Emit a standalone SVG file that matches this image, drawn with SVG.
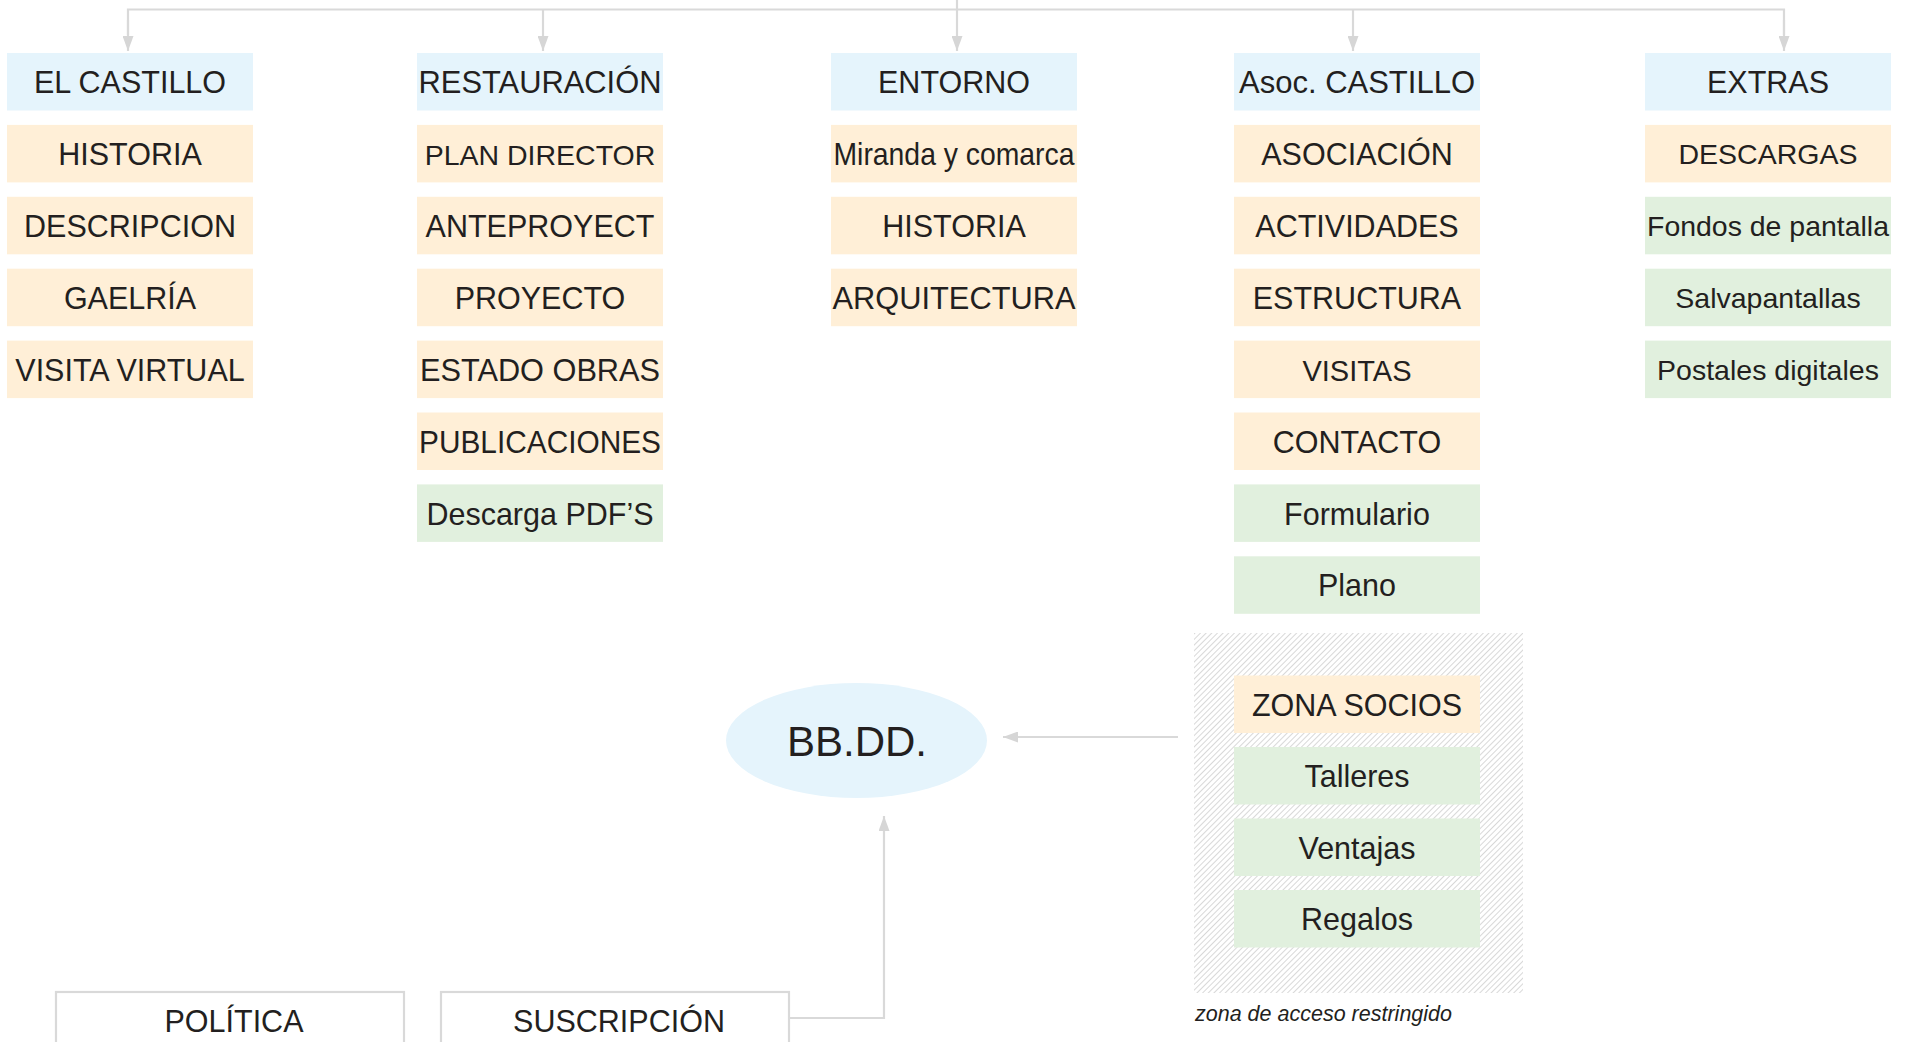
<svg xmlns="http://www.w3.org/2000/svg" width="1905" height="1042" viewBox="0 0 1905 1042">
<style>
  .t { font-family: "Liberation Sans", Arial, Helvetica, sans-serif; font-size: 30.5px; fill: #231f20; text-anchor: middle; }
  .s { font-size: 28.5px; }
  .blue { fill: #e5f4fc; }
  .peach { fill: #ffefd7; }
  .green { fill: #e1f0de; }
  .conn { fill: none; stroke: #d9d9d9; stroke-width: 2.2; }
  .white { fill: #ffffff; stroke: #d9d9d9; stroke-width: 2.2; }
  .note { font-family: "Liberation Sans", Arial, sans-serif; font-size: 22px; font-style: italic; fill: #231f20; }
</style>
<defs>
  <marker id="arr" viewBox="0 0 15 11" refX="15" refY="5.5" markerWidth="15" markerHeight="11" markerUnits="userSpaceOnUse" orient="auto">
    <path d="M0,0 L15,5.5 L0,11 Z" fill="#d6d6d6"/>
  </marker>
  <pattern id="hatch" width="4" height="4" patternUnits="userSpaceOnUse" patternTransform="rotate(45)">
    <rect width="4" height="4" fill="#ffffff"/>
    <line x1="0" y1="0" x2="0" y2="4" stroke="#c8c8c8" stroke-width="1.4"/>
  </pattern>
</defs>
<rect width="1905" height="1042" fill="#ffffff"/>

<g id="restricted-zone">
  <rect x="1194" y="633" width="329" height="360" fill="url(#hatch)"/>
  <text class="note" x="1195" y="1020.5" textLength="257" lengthAdjust="spacingAndGlyphs">zona de acceso restringido</text>
</g>

<g id="connectors">
  <path class="conn" d="M957,0 L957,9.5"/>
  <path class="conn" d="M128,35 L128,9.5 L1784,9.5 L1784,35"/>
  <path class="conn" d="M128,20 L128,51" marker-end="url(#arr)"/>
  <path class="conn" d="M543,9.5 L543,51" marker-end="url(#arr)"/>
  <path class="conn" d="M957,9.5 L957,51" marker-end="url(#arr)"/>
  <path class="conn" d="M1353,9.5 L1353,51" marker-end="url(#arr)"/>
  <path class="conn" d="M1784,20 L1784,51" marker-end="url(#arr)"/>
  <path class="conn" d="M1178,737 L1003,737" marker-end="url(#arr)"/>
  <path class="conn" d="M789,1018 L884,1018 L884,816" marker-end="url(#arr)"/>
</g>

<!-- Column 1: EL CASTILLO -->
<g id="el-castillo"><rect class="blue" x="7" y="53" width="246" height="57.5"/><text class="t" x="130" y="93">EL CASTILLO</text></g>
<g id="historia-1"><rect class="peach" x="7" y="124.9" width="246" height="57.5"/><text class="t" x="130" y="164.5">HISTORIA</text></g>
<g id="descripcion"><rect class="peach" x="7" y="196.8" width="246" height="57.5"/><text class="t" x="130" y="236.5">DESCRIPCION</text></g>
<g id="galeria"><rect class="peach" x="7" y="268.7" width="246" height="57.5"/><text class="t" x="130" y="308.5">GAELRÍA</text></g>
<g id="visita-virtual"><rect class="peach" x="7" y="340.6" width="246" height="57.5"/><text class="t" x="130" y="380.5">VISITA VIRTUAL</text></g>

<!-- Column 2: RESTAURACIÓN -->
<g id="restauracion"><rect class="blue" x="417" y="53" width="246" height="57.5"/><text class="t" x="540" y="93" textLength="243" lengthAdjust="spacingAndGlyphs">RESTAURACIÓN</text></g>
<g id="plan-director"><rect class="peach" x="417" y="124.9" width="246" height="57.5"/><text class="t s" x="540" y="164.5">PLAN DIRECTOR</text></g>
<g id="anteproyect"><rect class="peach" x="417" y="196.8" width="246" height="57.5"/><text class="t" x="540" y="236.5">ANTEPROYECT</text></g>
<g id="proyecto"><rect class="peach" x="417" y="268.7" width="246" height="57.5"/><text class="t" x="540" y="308.5">PROYECTO</text></g>
<g id="estado-obras"><rect class="peach" x="417" y="340.6" width="246" height="57.5"/><text class="t" x="540" y="380.5" textLength="240" lengthAdjust="spacingAndGlyphs">ESTADO OBRAS</text></g>
<g id="publicaciones"><rect class="peach" x="417" y="412.5" width="246" height="57.5"/><text class="t" x="540" y="452.5" textLength="242" lengthAdjust="spacingAndGlyphs">PUBLICACIONES</text></g>
<g id="descarga-pdfs"><rect class="green" x="417" y="484.4" width="246" height="57.5"/><text class="t" x="540" y="524.5">Descarga PDF’S</text></g>

<!-- Column 3: ENTORNO -->
<g id="entorno"><rect class="blue" x="831" y="53" width="246" height="57.5"/><text class="t" x="954" y="93">ENTORNO</text></g>
<g id="miranda"><rect class="peach" x="831" y="124.9" width="246" height="57.5"/><text class="t" x="954" y="164.5" textLength="241" lengthAdjust="spacingAndGlyphs">Miranda y comarca</text></g>
<g id="historia-2"><rect class="peach" x="831" y="196.8" width="246" height="57.5"/><text class="t" x="954" y="236.5">HISTORIA</text></g>
<g id="arquitectura"><rect class="peach" x="831" y="268.7" width="246" height="57.5"/><text class="t" x="954" y="308.5" textLength="243" lengthAdjust="spacingAndGlyphs">ARQUITECTURA</text></g>

<!-- Column 4: Asoc. CASTILLO -->
<g id="asoc-castillo"><rect class="blue" x="1234" y="53" width="246" height="57.5"/><text class="t" x="1357" y="93" textLength="236" lengthAdjust="spacingAndGlyphs">Asoc. CASTILLO</text></g>
<g id="asociacion"><rect class="peach" x="1234" y="124.9" width="246" height="57.5"/><text class="t" x="1357" y="164.5">ASOCIACIÓN</text></g>
<g id="actividades"><rect class="peach" x="1234" y="196.8" width="246" height="57.5"/><text class="t" x="1357" y="236.5">ACTIVIDADES</text></g>
<g id="estructura"><rect class="peach" x="1234" y="268.7" width="246" height="57.5"/><text class="t" x="1357" y="308.5">ESTRUCTURA</text></g>
<g id="visitas"><rect class="peach" x="1234" y="340.6" width="246" height="57.5"/><text class="t" x="1357" y="380.5" style="font-size:29px">VISITAS</text></g>
<g id="contacto"><rect class="peach" x="1234" y="412.5" width="246" height="57.5"/><text class="t" x="1357" y="452.5">CONTACTO</text></g>
<g id="formulario"><rect class="green" x="1234" y="484.4" width="246" height="57.5"/><text class="t" x="1357" y="524.5">Formulario</text></g>
<g id="plano"><rect class="green" x="1234" y="556.3" width="246" height="57.5"/><text class="t" x="1357" y="596">Plano</text></g>

<!-- Column 5: EXTRAS -->
<g id="extras"><rect class="blue" x="1645" y="53" width="246" height="57.5"/><text class="t" x="1768" y="93">EXTRAS</text></g>
<g id="descargas"><rect class="peach" x="1645" y="124.9" width="246" height="57.5"/><text class="t s" x="1768" y="164">DESCARGAS</text></g>
<g id="fondos"><rect class="green" x="1645" y="196.8" width="246" height="57.5"/><text class="t s" x="1768" y="236" textLength="242" lengthAdjust="spacingAndGlyphs">Fondos de pantalla</text></g>
<g id="salvapantallas"><rect class="green" x="1645" y="268.7" width="246" height="57.5"/><text class="t s" x="1768" y="308">Salvapantallas</text></g>
<g id="postales"><rect class="green" x="1645" y="340.6" width="246" height="57.5"/><text class="t s" x="1768" y="380">Postales digitales</text></g>

<!-- Zona socios -->
<g id="zona-socios"><rect class="peach" x="1234" y="675.5" width="246" height="57.5"/><text class="t" x="1357" y="715.5">ZONA SOCIOS</text></g>
<g id="talleres"><rect class="green" x="1234" y="747" width="246" height="57.5"/><text class="t" x="1357" y="787">Talleres</text></g>
<g id="ventajas"><rect class="green" x="1234" y="818.5" width="246" height="57.5"/><text class="t" x="1357" y="858.5">Ventajas</text></g>
<g id="regalos"><rect class="green" x="1234" y="890" width="246" height="57.5"/><text class="t" x="1357" y="930">Regalos</text></g>

<!-- BB.DD. -->
<g id="bbdd"><ellipse class="blue" cx="856.5" cy="740.5" rx="130.5" ry="57.5"/><text class="t" x="857" y="755.5" style="font-size:42px">BB.DD.</text></g>

<!-- Bottom boxes -->
<g id="politica"><rect class="white" x="56" y="992" width="348" height="70"/><text class="t" x="234" y="1032">POLÍTICA</text></g>
<g id="suscripcion"><rect class="white" x="441" y="992" width="348" height="70"/><text class="t" x="619" y="1032">SUSCRIPCIÓN</text></g>
</svg>
